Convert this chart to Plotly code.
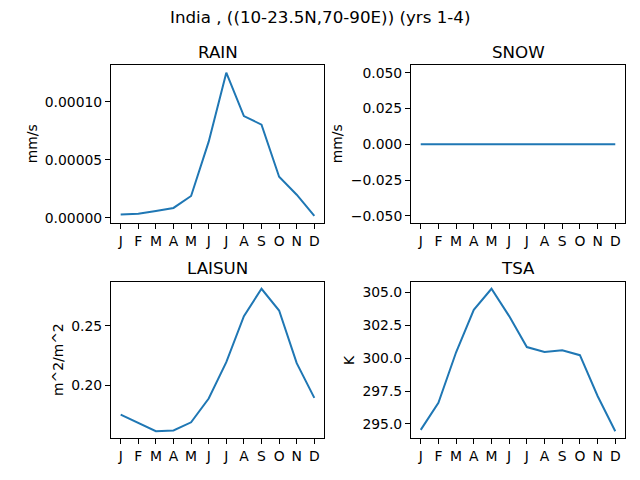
import plotly.graph_objects as go

months = ["J", "F", "M", "A", "M", "J", "J", "A", "S", "O", "N", "D"]
rain = [2.9e-6, 3.7e-6, 6.0e-6, 8.6e-6, 1.89e-5, 6.57e-5, 1.251e-4, 8.77e-5, 8.03e-5, 3.54e-5, 2.0e-5, 1.7e-6]
snow = [0.0] * 12
laisun = [0.1753, 0.1683, 0.1614, 0.1620, 0.1689, 0.1889, 0.2194, 0.2581, 0.2811, 0.2628, 0.2186, 0.1894]
tsa = [294.55, 296.6, 300.45, 303.68, 305.28, 303.2, 300.85, 300.48, 300.6, 300.23, 297.13, 294.45]

W, H = 640, 480
FONT = "DejaVu Sans"
FS = 13.9
TFS = 16.7
COLOR = "#1f77b4"

def px_x(p):
    return p / W

def px_y(p):
    return 1 - p / H

panels = [
    # name, data, unit, xdom(px), ydom(px), range, dtick, fmt, ylabel x px
    ("RAIN", rain, "mm/s", (111, 324), (65, 224), None, 5e-5, ".5f", 32),
    ("SNOW", snow, "mm/s", (411, 625), (65, 224), [-0.055, 0.055], 0.025, ".3f", 337),
    ("LAISUN", laisun, "m^2/m^2", (111, 324), (283, 441), None, 0.05, ".2f", 58),
    ("TSA", tsa, "K", (411, 625), (283, 441), None, 2.5, ".1f", 349),
]

fig = go.Figure()
layout = {}
annotations = []
xidx = list(range(12))

for i, (name, data, unit, xd, yd, rng, dtick, fmt, ylx) in enumerate(panels):
    n = "" if i == 0 else str(i + 1)
    fig.add_trace(go.Scatter(x=xidx, y=data, mode="lines",
                             line=dict(color=COLOR, width=2),
                             xaxis="x" + n, yaxis="y" + n, showlegend=False))
    if rng is None:
        lo, hi = min(data), max(data)
        m = (hi - lo) * 0.05
        rng = [lo - m, hi + m]
    common = dict(showline=True, mirror=True, linecolor="black", linewidth=1,
                  ticks="outside", ticklen=5, tickwidth=1, tickcolor="black",
                  showgrid=False, zeroline=False,
                  tickfont=dict(family=FONT, size=FS, color="black"))
    layout["xaxis" + n] = dict(domain=[px_x(xd[0]), px_x(xd[1])],
                               anchor="y" + n, range=[-0.55, 11.55],
                               tickmode="array", tickvals=xidx, ticktext=months,
                               **common)
    layout["yaxis" + n] = dict(domain=[px_y(yd[1]), px_y(yd[0])],
                               anchor="x" + n, range=rng, dtick=dtick, tick0=0,
                               tickformat=fmt, **common)
    annotations.append(dict(text=name, x=px_x((xd[0] + xd[1]) / 2), y=px_y(yd[0] - 14),
                            xref="paper", yref="paper", xanchor="center", yanchor="middle",
                            showarrow=False, font=dict(family=FONT, size=TFS, color="black")))
    annotations.append(dict(text=unit, x=px_x(ylx), y=px_y((yd[0] + yd[1]) / 2),
                            xref="paper", yref="paper", xanchor="center", yanchor="middle",
                            textangle=-90, showarrow=False,
                            font=dict(family=FONT, size=FS, color="black")))

annotations.append(dict(text="India , ((10-23.5N,70-90E)) (yrs 1-4)", x=0.5, y=px_y(16),
                        xref="paper", yref="paper", xanchor="center", yanchor="middle",
                        showarrow=False, font=dict(family=FONT, size=TFS, color="black")))

fig.update_layout(width=W, height=H, margin=dict(l=0, r=0, t=0, b=0),
                  paper_bgcolor="white", plot_bgcolor="white",
                  annotations=annotations, **layout)

fig.write_html("out.html", config={"displayModeBar": False},
               post_script="document.body.style.margin='0';")
